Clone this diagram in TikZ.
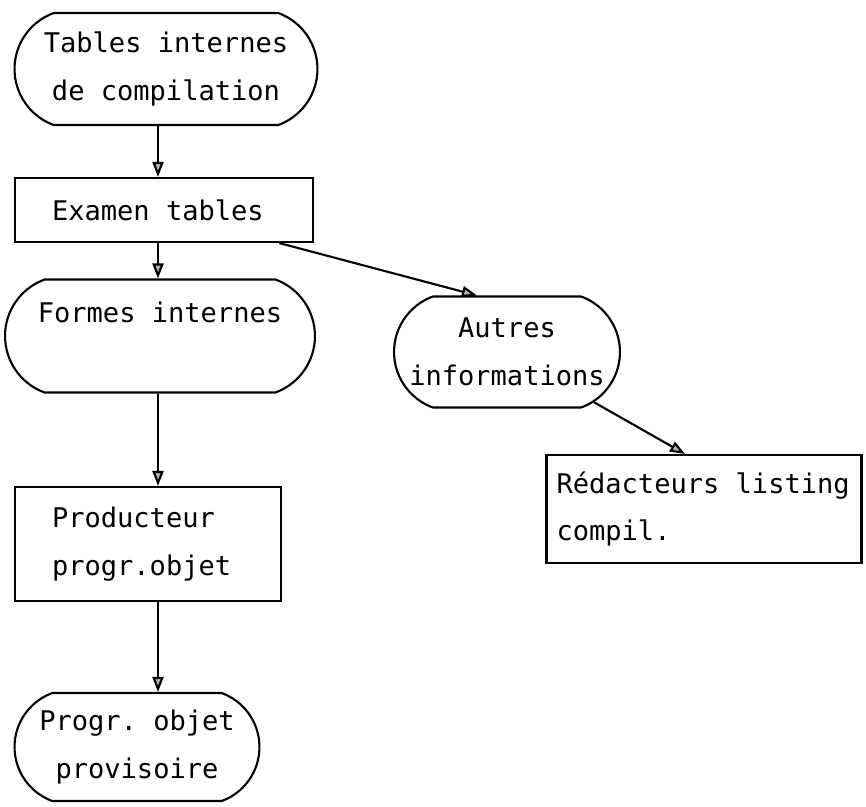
\documentclass[tikz,border=0pt]{standalone}
\usepackage{fontspec}
\setmainfont[WordSpace={1,0,0}]{DejaVu Sans Mono}
\usetikzlibrary{shapes.misc,arrows.meta}

\begin{document}
\begin{tikzpicture}[x=0.02cm,y=-0.02cm,
  font=\fontsize{15.4}{27}\selectfont\frenchspacing,
  bloc/.style={draw, line width=1.2pt, rectangle, align=flush left, inner ysep=0pt},
  pille/.style={draw, line width=1.2pt, rounded rectangle, rounded rectangle arc length=140,
    align=center, inner sep=0pt},
  fleche/.style={line width=1.2pt, -{Triangle[length=0.3cm,width=0.22cm,fill=gray!60]}}]
  \useasboundingbox (0,0) rectangle (866,806);

  % Colonne principale
  \node[pille, minimum width=6.06cm, minimum height=2.24cm] (tables) at (166,69)
    {Tables internes\\de compilation};
  \node[bloc, text width=4.48cm, inner xsep=0.74cm, minimum height=1.28cm] (examen) at (164,210)
    {Examen tables};
  \node[pille, minimum width=6.2cm, minimum height=2.26cm] (formes) at (160,336)
    {Formes internes\\\mbox{}};
  \node[bloc, text width=3.84cm, inner xsep=0.74cm, minimum height=2.28cm] (producteur) at (148,544)
    {Producteur\\progr.objet};
  \node[pille, minimum width=4.9cm, minimum height=2.16cm] (progr) at (137,747)
    {Progr. objet\\provisoire};

  % Branche droite
  \node[pille, minimum width=4.52cm, minimum height=2.22cm] (autres) at (507,352)
    {Autres\\informations};
  \node[bloc, text width=5.9cm, inner xsep=0.2cm, minimum height=2.16cm] (redac) at (704,509)
    {Rédacteurs listing\\compil.};

  % Fleches
  \coordinate (axe) at (158,0);
  \draw[fleche] (tables.south -| axe) -- (examen.north -| axe);
  \draw[fleche] (examen.south -| axe) -- (formes.north -| axe);
  \draw[fleche] (formes.south -| axe) -- (producteur.north -| axe);
  \draw[fleche] (producteur.south -| axe) -- (progr.north -| axe);
  \draw[fleche] (examen.-16) -- (autres.118);
  \draw[fleche] (autres.-30) -- (redac.109);
\end{tikzpicture}
\end{document}
